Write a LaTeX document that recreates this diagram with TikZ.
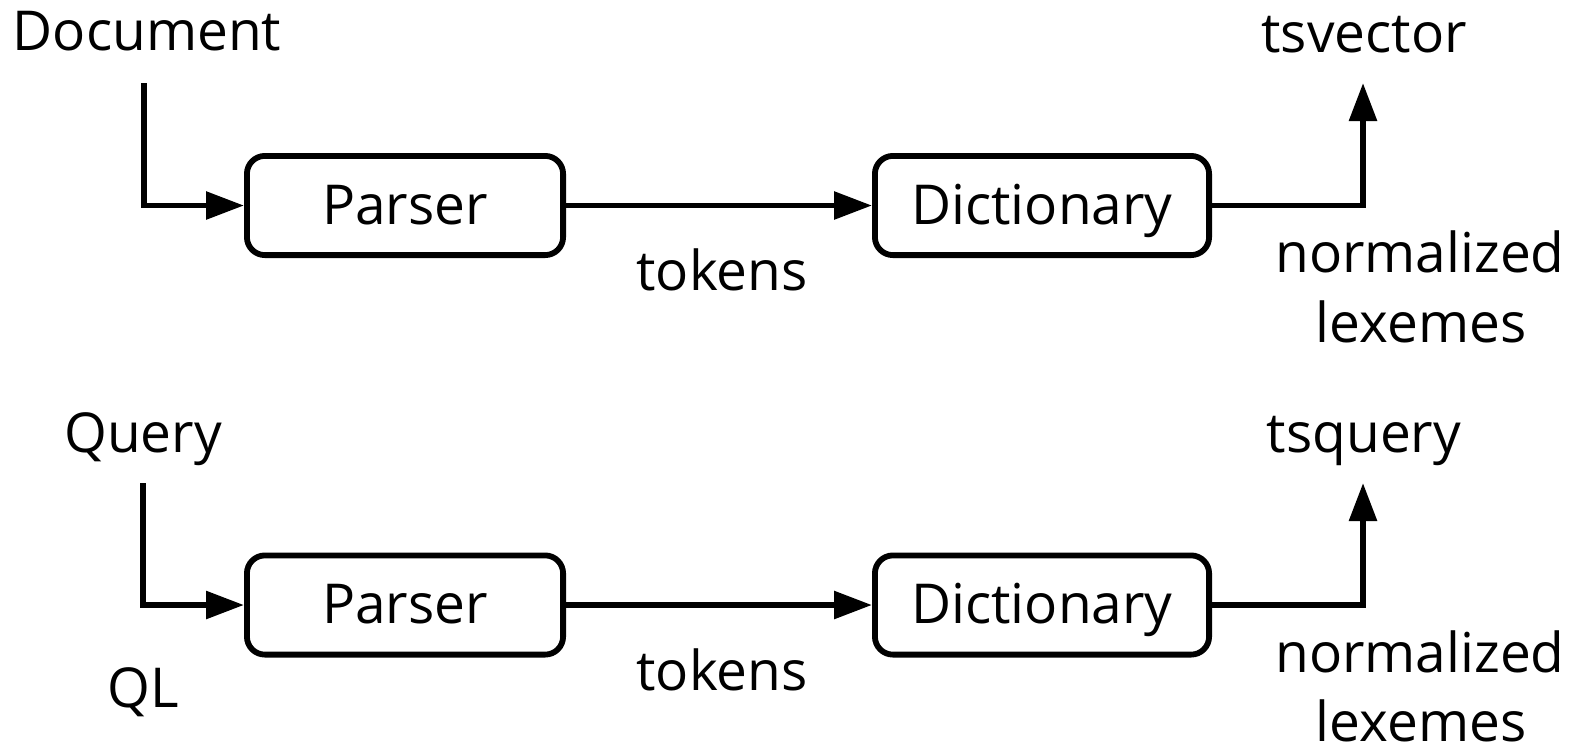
\documentclass[tikz,border=0pt]{standalone}
\usepackage{fontspec}
\setmainfont{Open Sans}
\usetikzlibrary{arrows.meta}
\begin{document}
\begin{tikzpicture}[x=0.5pt,y=-0.5pt,
  every node/.style={font=\fontsize{27.5}{33}\selectfont, inner sep=0pt},
  procbox/.style={draw, line width=2.9pt, rounded corners=9pt,
    minimum height=49.6pt, text height=18.5pt, text depth=0pt},
  lbl/.style={anchor=base},
  conn/.style={line width=2.9pt},
  arr/.style={conn, -{Triangle[length=19pt,width=13.5pt]}}]
\useasboundingbox (0,0) rectangle (1578,752);

% ---------- top row ----------
\node[lbl] (doc) at (147,50) {Document};
\coordinate (docstart) at (144,83);
\node[procbox, minimum width=158.1pt] (parser1) at (405,205.5) {Parser};
\node[procbox, minimum width=167.1pt] (dict1) at (1042,205.5) {Dictionary};
\coordinate (vecend) at (1363,83);
\node[lbl] (tok1) at (722,290) {tokens};
\node[lbl] (vec) at (1364,52) {tsvector};
\node[lbl] (norm1) at (1420,272) {normalized};
\node[lbl] (lex1) at (1421,342) {lexemes};

\draw[arr] (docstart) |- (parser1.west);
\draw[arr] (parser1.east) -- (dict1.west);
\draw[arr] (dict1.east) -| (vecend);

% ---------- bottom row ----------
\node[lbl] (query) at (143,452) {Query};
\node[lbl] (ql) at (143,707) {QL};
\coordinate (qstart) at (143,483);
\node[procbox, minimum width=158.1pt] (parser2) at (405,605) {Parser};
\node[procbox, minimum width=167.1pt] (dict2) at (1042,605) {Dictionary};
\coordinate (qend) at (1363,483);
\node[lbl] (tok2) at (722,690) {tokens};
\node[lbl] (tsq) at (1364,452) {tsquery};
\node[lbl] (norm2) at (1420,672) {normalized};
\node[lbl] (lex2) at (1421,741) {lexemes};

\draw[arr] (qstart) |- (parser2.west);
\draw[arr] (parser2.east) -- (dict2.west);
\draw[arr] (dict2.east) -| (qend);
\end{tikzpicture}
\end{document}
